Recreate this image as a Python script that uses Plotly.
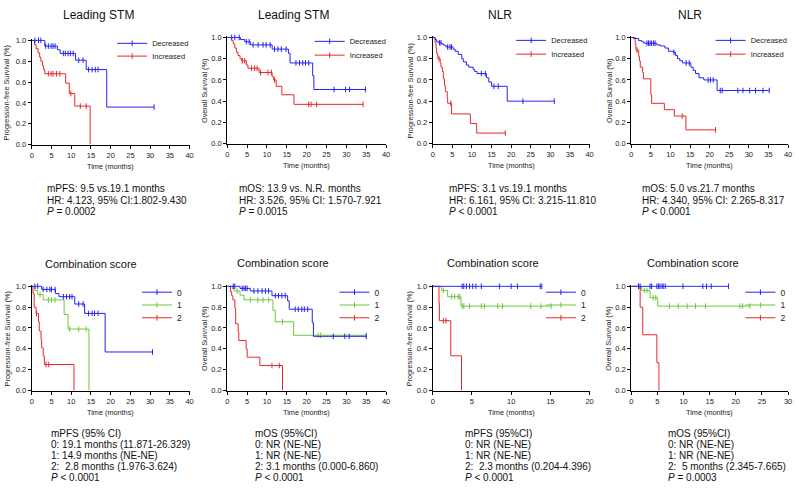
import plotly.graph_objects as go

W, H = 799, 489
FONT = "Liberation Sans, Arial, Helvetica, sans-serif"
BLUE, RED, GREEN = "#2323F2", "#E8282B", "#6DC83F"

# ---------------- data (event times, survival after event, censor times, last follow-up) ----------------
# Panel 1: Leading STM, PFS
p1_dec_t = [3.3, 6.5, 7.2, 11.1, 13.8, 19.0]
p1_dec_s = [0.945, 0.91, 0.875, 0.81, 0.72, 0.36]
p1_dec_c = [0.8, 1.7, 2.3, 3.5, 4.2, 4.9, 5.4, 5.9, 8.0, 8.5, 9.2, 9.8, 10.5, 11.9, 13.0, 14.4, 15.3, 16.1, 16.8, 31.0]
p1_dec_end = 31.0
p1_inc_t = [0.7, 1.1, 1.6, 2.0, 2.3, 2.7, 3.0, 3.3, 8.6, 9.5, 10.9, 14.8]
p1_inc_s = [0.96, 0.92, 0.88, 0.84, 0.80, 0.76, 0.72, 0.68, 0.59, 0.49, 0.37, 0.0]
p1_inc_c = [4.2, 4.9, 5.4, 6.3, 7.1, 9.9, 12.3, 13.8]
p1_inc_end = 14.8

# Panel 2: Leading STM, OS
p2_dec_t = [3.3, 4.4, 5.8, 11.3, 15.4, 15.8, 21.5, 21.8]
p2_dec_s = [0.98, 0.96, 0.93, 0.89, 0.85, 0.76, 0.64, 0.51]
p2_dec_c = [1.1, 1.9, 3.0, 4.8, 5.5, 6.5, 7.75, 9.0, 9.8, 10.8, 11.9, 12.75, 13.6, 14.8,
            17.3, 18.2, 19.0, 19.7, 20.5, 26.9, 29.8, 30.8, 34.8]
p2_dec_end = 34.8
p2_inc_t = [1.1, 1.5, 1.9, 2.3, 2.7, 3.2, 3.6, 4.8, 5.2, 8.0, 11.3, 11.7, 12.3, 13.75, 16.8]
p2_inc_s = [0.97, 0.94, 0.90, 0.86, 0.83, 0.80, 0.78, 0.74, 0.71, 0.67, 0.63, 0.60, 0.54, 0.46, 0.37]
p2_inc_c = [3.8, 4.4, 6.1, 6.9, 7.5, 8.4, 10.25, 11.1, 11.9, 20.5, 21.1, 22.5, 34.2]
p2_inc_end = 34.2

# Panel 3: NLR, PFS
p3_dec_t = [0.6, 1.0, 1.4, 2.3, 2.7, 3.1, 3.5, 5.2, 5.7, 6.5, 7.4, 7.8, 8.6, 9.2, 10.3, 10.7, 11.3,
            13.7, 14.3, 15.0, 19.0]
p3_dec_s = [0.98, 0.96, 0.95, 0.94, 0.93, 0.92, 0.91, 0.89, 0.87, 0.84, 0.80, 0.77, 0.74, 0.72, 0.70,
            0.68, 0.66, 0.62, 0.58, 0.54, 0.40]
p3_dec_c = [1.7, 2.1, 3.8, 4.4, 4.8, 12.4, 13.4, 15.6, 16.7, 23.0, 31.0]
p3_dec_end = 31.0
p3_inc_t = [0.6, 0.85, 1.0, 1.3, 1.9, 2.1, 2.45, 2.7, 3.0, 3.2, 3.7, 3.8, 4.8, 9.6, 11.2]
p3_inc_s = [0.95, 0.90, 0.85, 0.80, 0.76, 0.72, 0.68, 0.61, 0.55, 0.49, 0.43, 0.38, 0.28, 0.19, 0.10]
p3_inc_c = [1.6, 4.6, 18.5]
p3_inc_end = 18.5

# Panel 4: NLR, OS
p4_dec_t = [0.6, 1.9, 2.7, 3.1, 3.5, 6.5, 7.4, 8.6, 9.5, 10.7, 11.3, 11.8, 12.4, 13.1, 15.2, 15.8,
            16.4, 17.3, 18.5, 21.9]
p4_dec_s = [0.99, 0.97, 0.96, 0.95, 0.945, 0.93, 0.92, 0.90, 0.87, 0.86, 0.83, 0.80, 0.78, 0.76,
            0.72, 0.69, 0.66, 0.62, 0.60, 0.50]
p4_dec_c = [4.0, 4.4, 4.8, 5.2, 5.7, 6.1, 10.9, 14.0, 14.8, 19.6, 20.2, 20.9, 22.7, 23.2, 27.2,
            28.5, 30.2, 31.7, 33.6, 35.2]
p4_dec_end = 35.2
p4_inc_t = [1.0, 1.2, 1.9, 2.1, 2.3, 2.9, 3.1, 5.0, 5.2, 8.45, 11.0, 13.95]
p4_inc_s = [0.94, 0.88, 0.82, 0.78, 0.72, 0.67, 0.61, 0.46, 0.38, 0.32, 0.26, 0.13]
p4_inc_c = [1.5, 13.0, 21.5]
p4_inc_end = 21.5

# Panel 5: Combination score, PFS (Leading STM)
p5_g0_t = [2.5, 6.0, 6.9, 10.9, 13.4, 18.6]
p5_g0_s = [0.97, 0.93, 0.90, 0.83, 0.74, 0.37]
p5_g0_c = [0.8, 1.5, 2.9, 3.8, 4.6, 5.0, 5.9, 8.0, 8.8, 9.6, 10.2, 11.9, 13.0, 14.4, 15.3, 15.9, 16.8, 30.6]
p5_g0_end = 30.6
p5_g1_t = [0.8, 1.5, 2.9, 8.2, 9.2, 14.5]
p5_g1_s = [0.96, 0.92, 0.87, 0.73, 0.59, 0.0]
p5_g1_c = [2.1, 4.2, 5.0, 5.9, 9.6, 11.9, 13.8]
p5_g1_end = 14.5
p5_g2_t = [0.3, 0.6, 1.1, 1.7, 1.9, 2.35, 2.5, 2.9, 3.2, 10.7]
p5_g2_s = [0.93, 0.80, 0.74, 0.66, 0.57, 0.49, 0.41, 0.33, 0.25, 0.0]
p5_g2_c = [1.2, 3.6, 4.3]
p5_g2_end = 10.7

# Panel 6: Combination score, OS (Leading STM)
p6_g0_t = [3.2, 5.8, 11.25, 15.2, 15.6, 21.4, 21.7]
p6_g0_s = [0.98, 0.955, 0.91, 0.86, 0.78, 0.65, 0.52]
p6_g0_c = [1.5, 1.9, 3.75, 4.2, 4.6, 5.0, 6.7, 7.7, 8.75, 9.6, 10.4, 12.1, 12.9, 13.75, 14.6,
           17.1, 17.9, 18.75, 19.4, 20.25, 26.7, 29.6, 30.7, 35.0]
p6_g0_end = 35.0
p6_g1_t = [1.25, 1.7, 3.2, 4.2, 11.5, 12.1, 16.7]
p6_g1_s = [0.98, 0.955, 0.915, 0.87, 0.77, 0.66, 0.53]
p6_g1_c = [2.5, 5.8, 7.7, 9.0, 10.4, 13.9, 22.9, 23.5, 35.0]
p6_g1_end = 35.0
p6_g2_t = [0.8, 1.1, 1.4, 1.9, 2.1, 2.75, 2.9, 4.75, 5.0, 8.2, 13.9]
p6_g2_s = [0.95, 0.91, 0.87, 0.79, 0.64, 0.56, 0.48, 0.40, 0.32, 0.24, 0.0]
p6_g2_c = [11.25, 13.1]
p6_g2_end = 13.9

# Panel 7: Combination score, PFS (NLR)
p7_g0_t = []
p7_g0_s = []
p7_g0_c = [3.75, 3.96, 4.3, 4.7, 5.1, 5.5, 6.2, 8.5, 10.0, 10.8, 13.7, 13.9]
p7_g0_end = 13.9
p7_g1_t = [1.14, 1.9, 3.6]
p7_g1_s = [0.96, 0.90, 0.81]
p7_g1_c = [1.35, 2.4, 2.8, 3.25, 3.45, 3.75, 3.96, 4.7, 6.2, 6.6, 8.3, 8.9, 12.5, 13.8, 15.1]
p7_g1_end = 15.1
p7_g2_t = [0.8, 0.85, 2.3, 3.67]
p7_g2_s = [0.84, 0.67, 0.333, 0.0]
p7_g2_c = [1.35, 1.7]
p7_g2_end = 3.67

# Panel 8: Combination score, OS (NLR)
p8_g0_t = []
p8_g0_s = []
p8_g0_c = [1.4, 1.7, 3.6, 3.9, 4.9, 5.2, 5.5, 5.9, 6.1, 6.5, 9.9, 13.7, 14.4, 15.3, 18.6]
p8_g0_end = 18.6
p8_g1_t = [2.0, 3.6, 5.06]
p8_g1_s = [0.96, 0.89, 0.81]
p8_g1_c = [2.5, 3.0, 4.2, 4.7, 7.3, 9.0, 10.7, 12.3, 14.2, 20.8, 21.3, 22.7]
p8_g1_end = 22.7
p8_g2_t = [1.7, 2.2, 4.9, 5.3]
p8_g2_s = [0.80, 0.535, 0.267, 0.0]
p8_g2_c = [1.4]
p8_g2_end = 5.3

# ---------------- text ----------------
titles = ["Leading STM", "Leading STM", "NLR", "NLR",
          "Combination score", "Combination score", "Combination score", "Combination score"]
ytitles = ["Progression-free Survival (%)", "Overall Survival (%)",
           "Progression-free Survival (%)", "Overall Survival (%)",
           "Progression-free Survival (%)", "Overall Survival (%)",
           "Progression-free Survival (%)", "Overall Survival (%)"]
xtitle = "Time (months)"
x_max = [40, 40, 40, 40, 40, 40, 20, 30]
stats = [
    ["mPFS: 9.5 vs.19.1 months", "HR: 4.123, 95% CI:1.802-9.430", "<i>P</i> = 0.0002"],
    ["mOS: 13.9 vs. N.R. months", "HR: 3.526, 95% CI: 1.570-7.921", "<i>P</i> = 0.0015"],
    ["mPFS: 3.1 vs.19.1 months", "HR: 6.161, 95% CI: 3.215-11.810", "<i>P</i> &lt; 0.0001"],
    ["mOS: 5.0 vs.21.7 months", "HR: 4.340, 95% CI: 2.265-8.317", "<i>P</i> &lt; 0.0001"],
    ["mPFS (95% CI)", "0: 19.1 months (11.871-26.329)", "1: 14.9 months (NE-NE)",
     "2:  2.8 months (1.976-3.624)", "<i>P</i> &lt; 0.0001"],
    ["mOS (95%CI)", "0: NR (NE-NE)", "1: NR (NE-NE)", "2: 3.1 months (0.000-6.860)", "<i>P</i> &lt; 0.0001"],
    ["mPFS (95%CI)", "0: NR (NE-NE)", "1: NR (NE-NE)", "2:  2.3 months (0.204-4.396)", "<i>P</i> &lt; 0.0001"],
    ["mOS (95%CI)", "0: NR (NE-NE)", "1: NR (NE-NE)", "2:  5 months (2.345-7.665)", "<i>P</i> = 0.0003"],
]
top_names = ["Decreased", "Increased"]
bot_names = ["0", "1", "2"]

panels = [
    [(p1_dec_t, p1_dec_s, p1_dec_c, p1_dec_end), (p1_inc_t, p1_inc_s, p1_inc_c, p1_inc_end)],
    [(p2_dec_t, p2_dec_s, p2_dec_c, p2_dec_end), (p2_inc_t, p2_inc_s, p2_inc_c, p2_inc_end)],
    [(p3_dec_t, p3_dec_s, p3_dec_c, p3_dec_end), (p3_inc_t, p3_inc_s, p3_inc_c, p3_inc_end)],
    [(p4_dec_t, p4_dec_s, p4_dec_c, p4_dec_end), (p4_inc_t, p4_inc_s, p4_inc_c, p4_inc_end)],
    [(p5_g0_t, p5_g0_s, p5_g0_c, p5_g0_end), (p5_g1_t, p5_g1_s, p5_g1_c, p5_g1_end),
     (p5_g2_t, p5_g2_s, p5_g2_c, p5_g2_end)],
    [(p6_g0_t, p6_g0_s, p6_g0_c, p6_g0_end), (p6_g1_t, p6_g1_s, p6_g1_c, p6_g1_end),
     (p6_g2_t, p6_g2_s, p6_g2_c, p6_g2_end)],
    [(p7_g0_t, p7_g0_s, p7_g0_c, p7_g0_end), (p7_g1_t, p7_g1_s, p7_g1_c, p7_g1_end),
     (p7_g2_t, p7_g2_s, p7_g2_c, p7_g2_end)],
    [(p8_g0_t, p8_g0_s, p8_g0_c, p8_g0_end), (p8_g1_t, p8_g1_s, p8_g1_c, p8_g1_end),
     (p8_g2_t, p8_g2_s, p8_g2_c, p8_g2_end)],
]

# ---------------- layout geometry (pixels) ----------------
# (x of t=0, x of t=max, y of S=1.0, y of S=0)
rects = [(30, 189, 38, 144), (227, 387, 35, 143), (434, 592, 35, 143), (634, 792, 35, 143),
         (30, 189, 288, 394), (227, 387, 288, 394), (434, 592, 288, 394), (634, 792, 288, 394)]
title_pos = [(97, 12, 12), (294, 12, 12), (502, 12, 12), (693, 12, 12),
             (90, 265, 11), (283, 264, 11), (495, 264, 11), (696, 264, 11)]
ytitle_x = [5, 204, 412, 612, 5, 204, 411, 611]
stats_x = [43, 237, 448, 643, 47, 253, 464, 669]
stats_y_top = [189, 200.5, 212]
stats_y_bot = [438, 449, 460, 471, 482]
legend_text_x = [152, 351, 554, 755, 177, 376, 584, 785]
legend_y_top = [[41, 54], [39, 53], [38, 52], [38, 52]]
legend_y_bot = [294, 307, 320]
YMAX = 1.01


def px(x):
    return x / W


def py(y):
    return 1 - y / H


def surv_at(t_ev, s_ev, t):
    v = 1.0
    for te, se in zip(t_ev, s_ev):
        if te <= t:
            v = se
    return v


fig = go.Figure()
layout = dict(width=W, height=H, margin=dict(l=0, r=0, t=0, b=0),
              paper_bgcolor="white", plot_bgcolor="white",
              font=dict(family=FONT, color="#1a1a1a"), showlegend=True)
annotations = []
leg_idx = [0]


def legend_key():
    leg_idx[0] += 1
    return "legend" if leg_idx[0] == 1 else f"legend{leg_idx[0]}"


for i in range(8):
    k = "" if i == 0 else str(i + 1)
    xa, ya = "x" + k, "y" + k
    x0, x1, y1, y0 = rects[i]
    ytop = y1 - (YMAX - 1.0) * (y0 - y1)
    layout["xaxis" + k] = dict(domain=[px(x0), px(x1)], anchor=ya, range=[0, x_max[i]],
                               tickvals=list(range(0, x_max[i] + 1, 5)),
                               showline=True, linecolor="black", linewidth=1.3,
                               ticks="outside", ticklen=3, tickwidth=1, tickcolor="black",
                               tickfont=dict(size=7.5, color="#222"), showgrid=False, zeroline=False)
    layout["yaxis" + k] = dict(domain=[py(y0), py(ytop)], anchor=xa, range=[0, YMAX],
                               tickvals=[0, 0.2, 0.4, 0.6, 0.8, 1.0], tickformat=".1f",
                               showline=True, linecolor="black", linewidth=1.3,
                               ticks="outside", ticklen=3, tickwidth=1, tickcolor="black",
                               tickfont=dict(size=7.5, color="#222"), showgrid=False, zeroline=False)

    curves = panels[i]
    if len(curves) == 2:
        colors = [BLUE, RED]
        names = top_names
        leg_ys = legend_y_top[i]
        lsize = 7.5
    else:
        colors = [BLUE, GREEN, RED]
        names = bot_names
        leg_ys = legend_y_bot
        lsize = 8.5

    # draw later groups first so group "0"/Decreased sits on top
    for j in reversed(range(len(curves))):
        t_ev, s_ev, cens, end = curves[j]
        xs = [0.0] + list(t_ev)
        ys = [1.0] + list(s_ev)
        if end > xs[-1]:
            xs.append(end)
            ys.append(ys[-1])
        fig.add_trace(go.Scatter(x=xs, y=ys, mode="lines", line=dict(color=colors[j], width=1, shape="hv"),
                                 xaxis=xa, yaxis=ya, showlegend=False, hoverinfo="skip"))
        cy = [surv_at(t_ev, s_ev, c) for c in cens]
        fig.add_trace(go.Scatter(x=cens, y=cy, mode="markers", cliponaxis=False,
                                 marker=dict(symbol="line-ns", size=4, line=dict(color=colors[j], width=1)),
                                 xaxis=xa, yaxis=ya, showlegend=False, hoverinfo="skip"))

    for j in range(len(curves)):
        key = legend_key()
        layout[key] = dict(x=px(legend_text_x[i] - 41), xanchor="left", y=py(leg_ys[j]), yanchor="middle",
                           bgcolor="rgba(0,0,0,0)", borderwidth=0, itemwidth=30, tracegroupgap=0,
                           font=dict(size=lsize, color="#222", family=FONT))
        fig.add_trace(go.Scatter(x=[None], y=[None], mode="lines+markers", name=names[j], legend=key,
                                 line=dict(color=colors[j], width=1),
                                 marker=dict(symbol="line-ns", size=4, line=dict(color=colors[j], width=1)),
                                 xaxis=xa, yaxis=ya, hoverinfo="skip"))

    # titles & axis titles
    tx, ty, ts = title_pos[i]
    annotations.append(dict(text=titles[i], x=px(tx), y=py(ty), xref="paper", yref="paper",
                            showarrow=False, xanchor="center", yanchor="middle",
                            font=dict(size=ts, color="#111")))
    annotations.append(dict(text=ytitles[i], x=px(ytitle_x[i]), y=py((y0 + y1) / 2), xref="paper",
                            yref="paper", showarrow=False, textangle=-90, xanchor="center",
                            yanchor="middle", font=dict(size=7.3, color="#222")))
    annotations.append(dict(text=xtitle, x=px((x0 + x1) / 2), y=py(y0 + 22), xref="paper", yref="paper",
                            showarrow=False, xanchor="center", yanchor="middle",
                            font=dict(size=7.3, color="#222")))
    ys_lines = stats_y_top if i < 4 else stats_y_bot
    for line, yl in zip(stats[i], ys_lines):
        annotations.append(dict(text=line, x=px(stats_x[i]), y=py(yl), xref="paper", yref="paper",
                                showarrow=False, xanchor="left", yanchor="middle",
                                font=dict(size=10, color="#111")))

layout["annotations"] = annotations
fig.update_layout(**layout)
fig.write_html("out.html", config={"displayModeBar": False},
               post_script="document.body.style.margin='0px';document.body.style.overflow='hidden';")
